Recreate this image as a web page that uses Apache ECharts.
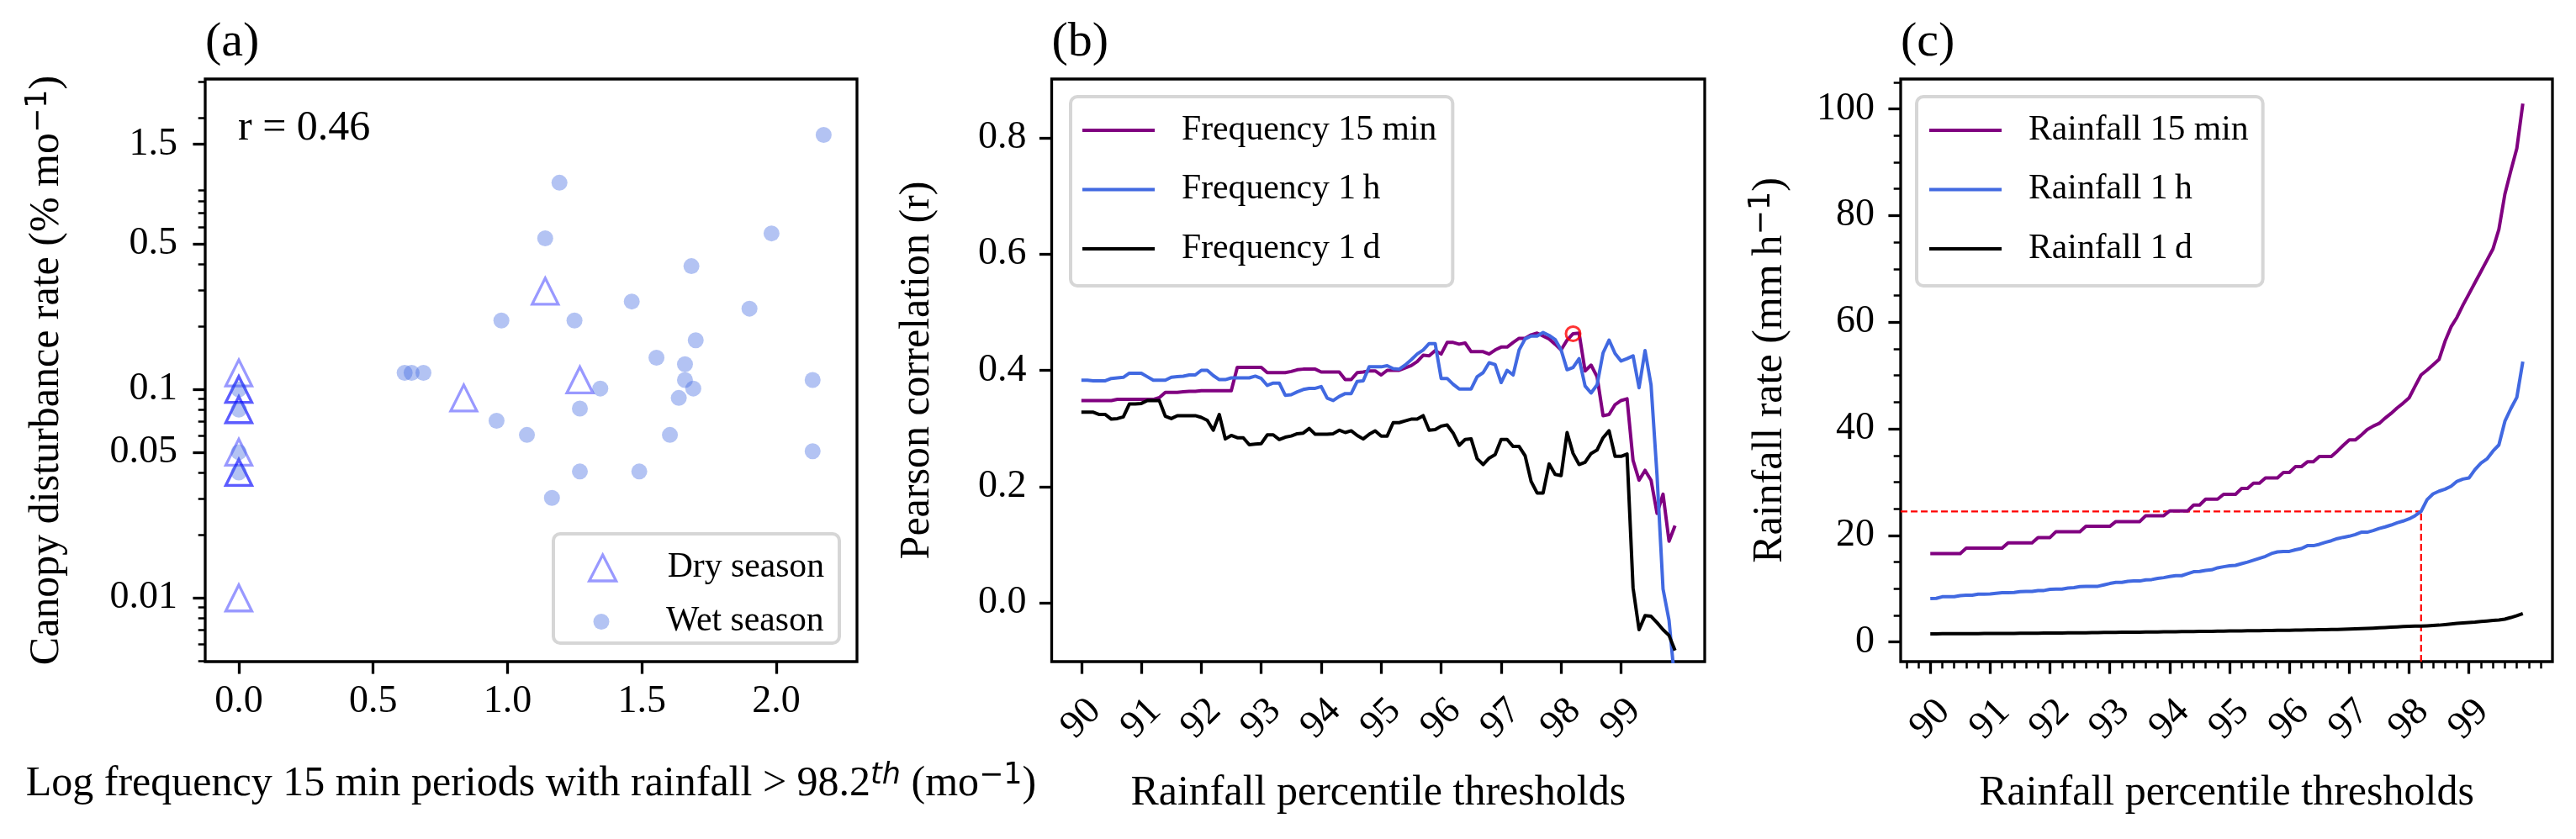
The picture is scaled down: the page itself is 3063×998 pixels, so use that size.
<!DOCTYPE html>
<html>
<head>
<meta charset="utf-8">
<script src="https://cdn.jsdelivr.net/npm/echarts@6/dist/echarts.min.js"></script>
<style>
html,body{margin:0;padding:0;background:#fff;}
#chart{width:3063px;height:998px;}
</style>
</head>
<body>
<div id="chart"></div>
<script>
// ---------- Panel (a): scatter ----------
const dryX = [0, 0, 0, 0, 0, 0, 0, 0, 0, 0.837, 1.140, 1.269];
const dryY = [0.12, 0.1, 0.1, 0.08, 0.08, 0.05, 0.04, 0.04, 0.01, 0.091, 0.296, 0.111];
const wetX = [0, 0, 0, 0, 0.617, 0.643, 0.687,
  2.176, 1.193, 1.140, 1.982, 1.684, 1.462, 1.900, 0.977, 1.249, 1.700, 1.554, 1.660, 1.660,
  1.691, 1.345, 2.135, 1.637, 1.269, 0.959, 1.072, 1.604, 2.135, 1.269, 1.490, 1.165];
const wetY = [0.1, 0.08, 0.05, 0.04, 0.12, 0.12, 0.12,
  1.66, 0.98, 0.53, 0.56, 0.39, 0.264, 0.244, 0.214, 0.214, 0.172, 0.142, 0.132, 0.111,
  0.101, 0.101, 0.111, 0.091, 0.081, 0.0708, 0.0605, 0.0605, 0.0505, 0.0404, 0.0404, 0.0302];
const xTicksA = [0, 0.5, 1.0, 1.5, 2.0];
const yTicksA = [0.01, 0.05, 0.1, 0.5, 1.5];
const yTickLabelsA = ['0.01', '0.05', '0.1', '0.5', '1.5'];
const yMinorTicksA = [0.005, 0.006, 0.007, 0.008, 0.009, 0.02, 0.03, 0.04, 0.06, 0.07, 0.08, 0.09,
  0.2, 0.3, 0.4, 0.6, 0.7, 0.8, 0.9, 2, 3];
const rLabel = 'r = 0.46';

// ---------- Panels (b) and (c): percentile thresholds ----------
const percentiles = [
  90.0,90.1,90.2,90.3,90.4,90.5,90.6,90.7,90.8,90.9,
  91.0,91.1,91.2,91.3,91.4,91.5,91.6,91.7,91.8,91.9,
  92.0,92.1,92.2,92.3,92.4,92.5,92.6,92.7,92.8,92.9,
  93.0,93.1,93.2,93.3,93.4,93.5,93.6,93.7,93.8,93.9,
  94.0,94.1,94.2,94.3,94.4,94.5,94.6,94.7,94.8,94.9,
  95.0,95.1,95.2,95.3,95.4,95.5,95.6,95.7,95.8,95.9,
  96.0,96.1,96.2,96.3,96.4,96.5,96.6,96.7,96.8,96.9,
  97.0,97.1,97.2,97.3,97.4,97.5,97.6,97.7,97.8,97.9,
  98.0,98.1,98.2,98.3,98.4,98.5,98.6,98.7,98.8,98.9,
  99.0,99.1,99.2,99.3,99.4,99.5,99.6,99.7,99.8,99.9];
const xTicksBC = [90, 91, 92, 93, 94, 95, 96, 97, 98, 99];

const freq15 = [
  0.348,0.348,0.348,0.348,0.348,0.348,0.350,0.350,0.350,0.350,
  0.350,0.350,0.350,0.353,0.362,0.362,0.362,0.363,0.364,0.364,
  0.365,0.365,0.365,0.365,0.365,0.365,0.405,0.405,0.405,0.405,
  0.405,0.396,0.396,0.396,0.396,0.398,0.401,0.402,0.402,0.402,
  0.397,0.397,0.397,0.397,0.384,0.384,0.396,0.397,0.399,0.399,
  0.392,0.400,0.400,0.400,0.404,0.408,0.415,0.426,0.425,0.434,
  0.428,0.448,0.448,0.445,0.447,0.432,0.432,0.432,0.428,0.435,
  0.440,0.440,0.448,0.455,0.455,0.461,0.464,0.459,0.454,0.445,
  0.435,0.452,0.463,0.464,0.399,0.409,0.389,0.322,0.324,0.341,
  0.348,0.351,0.245,0.211,0.228,0.211,0.154,0.187,0.106,0.133];
const freq1h = [
  0.383,0.383,0.382,0.382,0.382,0.386,0.387,0.388,0.395,0.395,
  0.395,0.389,0.383,0.383,0.383,0.388,0.389,0.390,0.392,0.392,
  0.400,0.400,0.391,0.384,0.384,0.387,0.387,0.387,0.387,0.390,
  0.386,0.374,0.378,0.378,0.357,0.358,0.363,0.367,0.369,0.369,
  0.372,0.352,0.348,0.355,0.360,0.360,0.381,0.382,0.406,0.406,
  0.406,0.408,0.403,0.402,0.409,0.418,0.428,0.435,0.446,0.446,
  0.386,0.386,0.376,0.368,0.368,0.368,0.389,0.396,0.413,0.410,
  0.379,0.400,0.392,0.435,0.454,0.459,0.459,0.465,0.460,0.453,
  0.435,0.401,0.405,0.420,0.373,0.361,0.375,0.430,0.452,0.429,
  0.416,0.420,0.425,0.370,0.434,0.375,0.219,0.024,-0.030,-0.140];
const freq1d = [
  0.328,0.328,0.328,0.324,0.324,0.316,0.317,0.320,0.342,0.342,
  0.343,0.348,0.348,0.348,0.321,0.317,0.322,0.322,0.322,0.322,
  0.319,0.314,0.297,0.324,0.282,0.288,0.284,0.284,0.272,0.273,
  0.274,0.289,0.289,0.281,0.285,0.287,0.291,0.292,0.300,0.290,
  0.290,0.290,0.291,0.297,0.293,0.296,0.288,0.282,0.290,0.296,
  0.287,0.287,0.310,0.310,0.313,0.316,0.316,0.322,0.297,0.298,
  0.304,0.306,0.292,0.271,0.281,0.282,0.248,0.238,0.249,0.255,
  0.281,0.281,0.269,0.269,0.253,0.209,0.189,0.189,0.239,0.221,
  0.219,0.293,0.257,0.238,0.242,0.257,0.263,0.284,0.296,0.252,
  0.252,0.256,0.026,-0.046,-0.022,-0.023,-0.034,-0.046,-0.056,-0.082];
const yTicksB = [0.0, 0.2, 0.4, 0.6, 0.8];
const peakPercentile = 98.2;
const peakR = 0.463;

const rain15 = [
  16.6,16.6,16.6,16.6,16.6,16.6,17.6,17.6,17.6,17.6,
  17.6,17.6,17.6,18.6,18.6,18.6,18.6,18.6,19.6,19.6,
  19.6,20.7,20.7,20.7,20.7,20.7,21.7,21.7,21.7,21.7,
  21.7,22.6,22.6,22.6,22.6,22.6,23.7,23.7,23.7,23.7,
  24.6,24.6,24.6,24.6,25.7,25.7,26.8,26.8,26.8,27.7,
  27.7,27.7,28.8,28.8,29.8,29.8,30.8,30.8,30.8,31.8,
  31.8,32.9,32.9,33.8,33.8,34.8,34.8,34.8,35.8,36.9,
  37.9,37.9,38.8,39.85,40.5,41.0,42.0,42.9,43.9,44.8,
  45.8,48.0,50.1,51.0,52.0,53.0,56.4,59.1,60.9,63.2,
  65.3,67.4,69.5,71.6,73.7,77.4,84.0,88.4,92.6,101.0];
const rain1h = [
  8.15,8.2,8.5,8.5,8.5,8.72,8.78,8.78,8.99,8.99,
  9.04,9.14,9.25,9.25,9.3,9.46,9.51,9.51,9.67,9.67,
  9.88,9.93,9.93,10.14,10.2,10.4,10.46,10.46,10.46,10.72,
  10.98,11.19,11.19,11.4,11.45,11.45,11.66,11.72,11.93,12.08,
  12.29,12.45,12.45,12.82,13.19,13.24,13.45,13.55,13.92,14.13,
  14.29,14.39,14.7,15.0,15.34,15.7,16.07,16.6,16.91,17.0,
  17.0,17.3,17.54,18.07,18.07,18.33,18.7,19.0,19.4,19.64,
  19.85,20.17,20.6,20.6,20.9,21.3,21.6,21.95,22.37,22.7,
  23.1,23.7,24.5,26.7,27.78,28.3,28.67,29.2,30.15,30.57,
  30.77,32.35,33.56,34.34,35.8,36.97,41.4,43.79,45.9,52.6];
const rain1d = [
  1.55,1.55,1.56,1.56,1.57,1.57,1.58,1.58,1.59,1.60,
  1.60,1.61,1.62,1.62,1.63,1.64,1.65,1.66,1.67,1.68,
  1.69,1.70,1.71,1.72,1.73,1.74,1.75,1.77,1.78,1.80,
  1.81,1.82,1.83,1.84,1.85,1.86,1.88,1.89,1.90,1.92,
  1.93,1.94,1.95,1.97,1.98,2.00,2.01,2.02,2.04,2.05,
  2.07,2.08,2.10,2.11,2.13,2.14,2.16,2.17,2.19,2.20,
  2.22,2.24,2.26,2.28,2.30,2.32,2.34,2.36,2.38,2.40,
  2.43,2.47,2.51,2.55,2.60,2.66,2.72,2.78,2.84,2.90,
  2.95,2.98,3.01,3.05,3.10,3.17,3.27,3.38,3.50,3.60,
  3.68,3.75,3.85,3.95,4.05,4.15,4.30,4.60,4.95,5.35];
const yTicksC = [0, 20, 40, 60, 80, 100];
const yMinorTicksC = [5, 10, 15, 25, 30, 35, 45, 50, 55, 65, 70, 75, 85, 90, 95, 105];
const thresholdPercentile = 98.2;
const thresholdRate = 24.5;

// ---------- layout / style ----------
const FONT = 'Liberation Serif';
const GRID_TOP = 94, GRID_H = 693;
const axA = {xmin: -0.125, xmax: 2.30, ymin: 0.00495, ymax: 3.08};
const axB = {xmin: 89.505, xmax: 100.395, ymin: -0.101, ymax: 0.901};
const axC = {xmin: 89.505, xmax: 100.395, ymin: -3.67, ymax: 105.6};
const xMinorTicksC = [];
for (let t = 89.6; t < 100.39; t += 0.2) {
  const r = Math.round(t * 10) / 10;
  if (Math.abs(r - Math.round(r)) > 1e-6 || r < 90 || r > 99) xMinorTicksC.push(r);
}
const noLine = {show: false, onZero: false};
const majorTick = {show: true, length: 14.6, lineStyle: {color: '#000', width: 3.3}};
const minorTickStyle = {show: true, length: 8.3, lineStyle: {color: '#000', width: 2.5}};
const tickFont = {fontFamily: FONT, fontSize: 46, color: '#000'};
const nameFont = {fontFamily: FONT, fontSize: 50, color: '#000'};
const supStyle = {fontFamily: 'DejaVu Sans', fontSize: 35, lineHeight: 36, verticalAlign: 'top', color: '#000'};
const thStyle = Object.assign({}, supStyle, {fontStyle: 'italic'});

const pair = (xs, ys) => xs.map((x, i) => [x, ys[i]]);
const lineSeries = (name, xi, yi, ys, color) => ({
  name, type: 'line', xAxisIndex: xi, yAxisIndex: yi, data: pair(percentiles, ys),
  symbol: 'none', showSymbol: false, clip: true, z: 2,
  lineStyle: {color, width: 4, join: 'round'}, itemStyle: {color}
});
const hiddenAxis = {axisLine: noLine, axisTick: {show: false}, axisLabel: {show: false}, splitLine: {show: false}};

const gridBase = {top: GRID_TOP, height: GRID_H, show: true, borderColor: '#000', borderWidth: 3.3, backgroundColor: 'rgba(0,0,0,0)'};

const option = {
  animation: false,
  backgroundColor: '#fff',
  textStyle: {fontFamily: FONT},
  grid: [
    Object.assign({left: 244, width: 775}, gridBase),
    Object.assign({left: 1250.5, width: 776.5}, gridBase),
    Object.assign({left: 2260, width: 775}, gridBase)
  ],
  xAxis: [
    { // (a)
      gridIndex: 0, type: 'value', min: axA.xmin, max: axA.xmax, position: 'bottom',
      axisLine: noLine, splitLine: {show: false},
      axisTick: Object.assign({customValues: xTicksA}, majorTick),
      axisLabel: Object.assign({customValues: xTicksA, margin: 48, verticalAlign: 'middle',
        formatter: v => Number(v).toFixed(1)}, tickFont),
      name: 'Log frequency 15 min periods with rainfall > 98.2{th|th} (mo{sup|\u22121})',
      nameLocation: 'middle', nameGap: 118,
      nameTextStyle: Object.assign({lineHeight: 56, rich: {th: thStyle, sup: supStyle}}, nameFont)
    },
    { // (b)
      gridIndex: 1, type: 'value', min: axB.xmin, max: axB.xmax, position: 'bottom',
      axisLine: noLine, splitLine: {show: false},
      axisTick: Object.assign({customValues: xTicksBC}, majorTick),
      axisLabel: Object.assign({customValues: xTicksBC, rotate: 45, align: 'center', verticalAlign: 'middle',
        margin: 68, formatter: v => String(Math.round(v))}, tickFont),
      name: 'Rainfall percentile thresholds', nameLocation: 'middle', nameGap: 132,
      nameTextStyle: Object.assign({lineHeight: 50}, nameFont)
    },
    { // (c)
      gridIndex: 2, type: 'value', min: axC.xmin, max: axC.xmax, position: 'bottom',
      axisLine: noLine, splitLine: {show: false},
      axisTick: Object.assign({customValues: xTicksBC}, majorTick),
      axisLabel: Object.assign({customValues: xTicksBC, rotate: 45, align: 'center', verticalAlign: 'middle',
        margin: 69, formatter: v => String(Math.round(v))}, tickFont),
      name: 'Rainfall percentile thresholds', nameLocation: 'middle', nameGap: 132,
      nameTextStyle: Object.assign({lineHeight: 50}, nameFont)
    },
    { // (c) minor ticks
      gridIndex: 2, type: 'value', min: axC.xmin, max: axC.xmax, position: 'bottom',
      axisLine: noLine, splitLine: {show: false}, axisLabel: {show: false},
      axisTick: Object.assign({customValues: xMinorTicksC}, minorTickStyle)
    }
  ],
  yAxis: [
    Object.assign({ // (a) data axis (log)
      gridIndex: 0, type: 'log', logBase: 10, min: axA.ymin, max: axA.ymax, position: 'left'
    }, hiddenAxis),
    { // (a) major ticks/labels in log10 space
      gridIndex: 0, type: 'value', position: 'left',
      min: Math.log10(axA.ymin), max: Math.log10(axA.ymax),
      axisLine: noLine, splitLine: {show: false},
      axisTick: Object.assign({customValues: yTicksA.map(Math.log10)}, majorTick),
      axisLabel: Object.assign({customValues: yTicksA.map(Math.log10), margin: 33,
        formatter: v => {
          let best = 0, bd = Infinity;
          yTicksA.forEach((t, i) => { const d = Math.abs(Math.log10(t) - v); if (d < bd) { bd = d; best = i; } });
          return yTickLabelsA[best];
        }}, tickFont),
      name: 'Canopy disturbance rate (% mo{sup|\u22121})', nameLocation: 'middle', nameGap: 160,
      nameTextStyle: Object.assign({lineHeight: 56, rich: {sup: supStyle}}, nameFont)
    },
    { // (a) minor ticks
      gridIndex: 0, type: 'value', position: 'left',
      min: Math.log10(axA.ymin), max: Math.log10(axA.ymax),
      axisLine: noLine, splitLine: {show: false}, axisLabel: {show: false},
      axisTick: Object.assign({customValues: yMinorTicksA.map(Math.log10)}, minorTickStyle)
    },
    { // (b)
      gridIndex: 1, type: 'value', min: axB.ymin, max: axB.ymax, position: 'left',
      axisLine: noLine, splitLine: {show: false},
      axisTick: Object.assign({customValues: yTicksB}, majorTick),
      axisLabel: Object.assign({customValues: yTicksB, margin: 30, formatter: v => Number(v).toFixed(1)}, tickFont),
      name: 'Pearson correlation (r)', nameLocation: 'middle', nameGap: 135,
      nameTextStyle: Object.assign({lineHeight: 50}, nameFont)
    },
    { // (c)
      gridIndex: 2, type: 'value', min: axC.ymin, max: axC.ymax, position: 'left',
      axisLine: noLine, splitLine: {show: false},
      axisTick: Object.assign({customValues: yTicksC}, majorTick),
      axisLabel: Object.assign({customValues: yTicksC, margin: 31, formatter: v => String(Math.round(v))}, tickFont),
      name: 'Rainfall rate (mm\u2009h{sup|\u22121})', nameLocation: 'middle', nameGap: 127,
      nameTextStyle: Object.assign({lineHeight: 56, rich: {sup: supStyle}}, nameFont)
    },
    { // (c) minor ticks
      gridIndex: 2, type: 'value', min: axC.ymin, max: axC.ymax, position: 'left',
      axisLine: noLine, splitLine: {show: false}, axisLabel: {show: false},
      axisTick: Object.assign({customValues: yMinorTicksC}, minorTickStyle)
    }
  ],
  legend: [
    {
      left: 699, top: 654.5, orient: 'vertical', padding: 0, selectedMode: false, z: 6,
      data: ['Dry season'], itemWidth: 32, itemHeight: 31,
      itemStyle: {color: 'rgba(0,0,0,0)', borderColor: 'rgba(0,0,255,0.5)', borderWidth: 3.3},
      textStyle: {fontFamily: FONT, fontSize: 41.7, color: '#000', lineHeight: 31, padding: [0, 0, 0, 56]}
    },
    {
      left: 705.5, top: 718.5, orient: 'vertical', padding: 0, selectedMode: false, z: 6,
      data: ['Wet season'], itemWidth: 19, itemHeight: 19,
      itemStyle: {color: 'rgba(65,105,225,0.5)', borderWidth: 0},
      textStyle: {fontFamily: FONT, fontSize: 41.7, color: '#000', lineHeight: 19, padding: [0, 0, 0, 62.5]}
    },
    {
      left: 1273, top: 115, orient: 'vertical', selectedMode: false, z: 6,
      data: ['Frequency 15 min', 'Frequency 1\u2009h', 'Frequency 1\u2009d'],
      icon: 'rect', itemWidth: 86, itemHeight: 4, itemGap: 28.5, padding: [19, 19, 23, 14],
      borderColor: 'rgb(214,214,214)', borderWidth: 4, borderRadius: 8, backgroundColor: 'rgba(255,255,255,0.8)',
      textStyle: {fontFamily: FONT, fontSize: 41.7, color: '#000', lineHeight: 30, padding: [0, 0, 0, 27]}
    },
    {
      left: 2279, top: 115, orient: 'vertical', selectedMode: false, z: 6,
      data: ['Rainfall 15 min', 'Rainfall 1\u2009h', 'Rainfall 1\u2009d'],
      icon: 'rect', itemWidth: 86, itemHeight: 4, itemGap: 28.5, padding: [19, 17, 23, 15],
      borderColor: 'rgb(214,214,214)', borderWidth: 4, borderRadius: 8, backgroundColor: 'rgba(255,255,255,0.8)',
      textStyle: {fontFamily: FONT, fontSize: 41.7, color: '#000', lineHeight: 30, padding: [0, 0, 0, 27]}
    }
  ],
  graphic: [
    {type: 'text', x: 244, y: 51, style: {text: '(a)', fontFamily: FONT, fontSize: 58, fill: '#000', align: 'left', verticalAlign: 'middle'}},
    {type: 'text', x: 1250.5, y: 51, style: {text: '(b)', fontFamily: FONT, fontSize: 58, fill: '#000', align: 'left', verticalAlign: 'middle'}},
    {type: 'text', x: 2260, y: 51, style: {text: '(c)', fontFamily: FONT, fontSize: 58, fill: '#000', align: 'left', verticalAlign: 'middle'}},
    {type: 'text', x: 283, y: 153, style: {text: rLabel, fontFamily: FONT, fontSize: 50, fill: '#000', align: 'left', verticalAlign: 'middle'}},
    {type: 'rect', z: 5, shape: {x: 658, y: 635, width: 340, height: 130, r: 8},
      style: {fill: 'rgba(255,255,255,0.8)', stroke: 'rgb(214,214,214)', lineWidth: 4}}
  ],
  series: [
    {
      name: 'Dry season', type: 'scatter', xAxisIndex: 0, yAxisIndex: 0, data: pair(dryX, dryY),
      symbol: 'triangle', symbolSize: 31, z: 2,
      itemStyle: {color: 'rgba(0,0,0,0)', borderColor: 'rgba(0,0,255,0.5)', borderWidth: 3.3}
    },
    {
      name: 'Wet season', type: 'scatter', xAxisIndex: 0, yAxisIndex: 0, data: pair(wetX, wetY),
      symbol: 'circle', symbolSize: 19, z: 3,
      itemStyle: {color: 'rgba(65,105,225,0.5)', borderWidth: 0}
    },
    lineSeries('Frequency 15 min', 1, 3, freq15, '#800080'),
    lineSeries('Frequency 1\u2009h', 1, 3, freq1h, '#4169E1'),
    lineSeries('Frequency 1\u2009d', 1, 3, freq1d, '#000000'),
    {
      name: 'peak', type: 'scatter', xAxisIndex: 1, yAxisIndex: 3, data: [[peakPercentile, peakR]],
      symbol: 'circle', symbolSize: 17, z: 4,
      itemStyle: {color: 'rgba(0,0,0,0)', borderColor: '#ff0000', borderWidth: 3}
    },
    lineSeries('Rainfall 15 min', 2, 4, rain15, '#800080'),
    lineSeries('Rainfall 1\u2009h', 2, 4, rain1h, '#4169E1'),
    lineSeries('Rainfall 1\u2009d', 2, 4, rain1d, '#000000'),
    {
      name: 'threshold-h', type: 'line', xAxisIndex: 2, yAxisIndex: 4, symbol: 'none', z: 1,
      data: [[axC.xmin, thresholdRate], [thresholdPercentile, thresholdRate]],
      lineStyle: {color: '#ff0000', width: 2.2, type: [8, 4]}
    },
    {
      name: 'threshold-v', type: 'line', xAxisIndex: 2, yAxisIndex: 4, symbol: 'none', z: 1,
      data: [[thresholdPercentile, axC.ymin], [thresholdPercentile, thresholdRate]],
      lineStyle: {color: '#ff0000', width: 2.2, type: [8, 4]}
    }
  ]
};

const chart = echarts.init(document.getElementById('chart'), null, {renderer: 'canvas'});
chart.setOption(option);
</script>
</body>
</html>
